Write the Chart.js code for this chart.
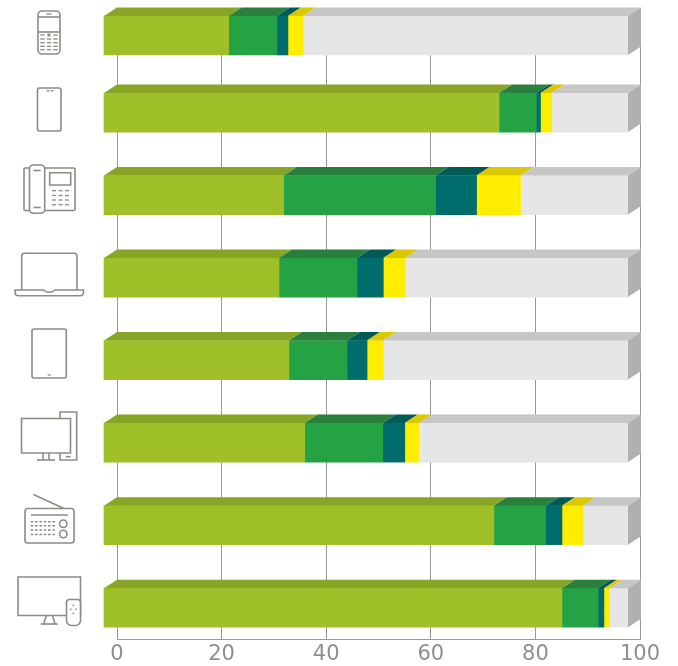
<!DOCTYPE html>
<html><head><meta charset="utf-8">
<style>html,body{margin:0;padding:0;background:#fff}#w{position:relative;width:678px;height:666px}canvas{display:block}</style>
<script src="https://cdn.jsdelivr.net/npm/chart.js@4/dist/chart.umd.min.js"></script>
</head><body><div id="w"><canvas id="c" width="678" height="666"></canvas></div>
<script>
const categories = ["Feature phone","Smartphone","Desk phone","Laptop","Tablet","Desktop PC","Radio","Television"];
const shareA = [23.8,75.4,34.3,33.4,35.3,38.3,74.4,87.4];
const shareB = [9.2,7.1,29.0,14.9,11.1,14.9,9.9,6.9];
const shareC = [2.1,0.8,7.8,5.0,3.8,4.2,3.1,1.1];
const shareD = [2.9,2.1,8.4,4.2,3.1,2.7,4.0,1.0];
const shareE = [62.0,14.6,20.5,42.5,46.7,39.9,8.6,3.6];
const tickValues = [0,20,40,60,80,100];
const seriesList = [shareA,shareB,shareC,shareD,shareE];
const frontColors = ["#9fc029","#25a244","#006c6c","#ffed00","#e6e6e6"];
const topColors = ["#88a526","#2a7f3d","#005a56","#dcc800","#c6c6c4"];
const sideColor = "#b0b0ae";
const depthX = 13, depthY = 8.5;

const boxes3d = {
  id:'boxes3d',
  afterDatasetsDraw(chart){
    const ctx = chart.ctx;
    ctx.save();
    const poly = (pts,col)=>{ctx.beginPath();pts.forEach((p,i)=>i?ctx.lineTo(p[0],p[1]):ctx.moveTo(p[0],p[1]));ctx.closePath();ctx.fillStyle=col;ctx.fill();};
    chart.data.datasets.forEach((ds,d)=>{
      chart.getDatasetMeta(d).data.forEach(el=>{
        const t = el.y-el.height/2, b = el.y+el.height/2;
        poly([[el.base,t],[el.x,t],[el.x+depthX,t-depthY],[el.base+depthX,t-depthY]],topColors[d]);
        if(d===seriesList.length-1) poly([[el.x,t],[el.x+depthX,t-depthY],[el.x+depthX,b-depthY],[el.x,b]],sideColor);
      });
    });
    ctx.restore();
  }
};

const icons = {
  id:'icons',
  afterDraw(chart){
    const c = chart.ctx;
    c.save();
    c.strokeStyle="#8c8c86";c.fillStyle="#8c8c86";c.lineWidth=1.6;c.lineCap="butt";
    const rr=(x0,y0,x1,y1,r,fill)=>{c.beginPath();c.roundRect(x0,y0,x1-x0,y1-y0,r);if(fill){c.fillStyle="#fff";c.fill();c.fillStyle="#8c8c86";}c.stroke();};
    const ln=(...p)=>{c.beginPath();c.moveTo(p[0],p[1]);for(let i=2;i<p.length;i+=2)c.lineTo(p[i],p[i+1]);c.stroke();};
    const dash=(cx,cy,w,h)=>c.fillRect(cx-w/2,cy-h/2,w,h);
    // feature phone
    rr(38,11,60,54,4);
    ln(38.5,17,59.5,17);ln(38.5,32,59.5,32);
    dash(49,14,5,1.3);
    [35,39,42.7,46.3,49.7].forEach((y,i)=>[42.5,49,55.5].forEach(x=>dash(x,y,i==0&&x==49?3:4.5,i==0&&x==49?3:1.3)));
    // smartphone
    rr(37.5,88,61,131,2);
    dash(48,90.8,3,1.3);dash(52,90.8,3,1.3);
    // desk phone
    rr(24,168,75,210.5,1);
    rr(29.5,165,44.7,213.3,4,true);
    ln(33.5,170.5,40.7,170.5);ln(33.5,207.5,40.7,207.5);
    rr(49.7,172.7,70.7,185,0);
    [190.7,195.5,200,204.7].forEach(y=>[54,60.5,67].forEach(x=>dash(x,y,4,1.3)));
    // laptop
    c.beginPath();c.moveTo(21.7,290);c.lineTo(21.7,256);c.arcTo(21.7,253.3,24.5,253.3,3);c.lineTo(74,253.3);c.arcTo(77,253.3,77,256,3);c.lineTo(77,290);c.stroke();
    c.beginPath();c.moveTo(15,290);c.lineTo(44,290);c.quadraticCurveTo(45,292,47,292);c.lineTo(51.5,292);c.quadraticCurveTo(53.5,292,54.5,290);c.lineTo(83.5,290);c.lineTo(83.5,292.5);c.quadraticCurveTo(83.5,295.8,80,295.8);c.lineTo(18.5,295.8);c.quadraticCurveTo(15,295.8,15,292.5);c.closePath();c.stroke();
    // tablet
    rr(32,329,66.3,378,2);
    dash(49.2,375,3,1.3);
    // desktop
    rr(60,412,76.7,460,0);
    rr(21.5,418.5,70.5,453,0,true);
    ln(43,453,43,460);ln(49,453,49,460);ln(37,460,55,460);
    ln(66,456.7,70.7,456.7);
    // radio
    rr(25,508.5,74,543,3);
    ln(33.5,494.5,63.3,508.3);
    ln(31,515,68,515);
    [521.7,525.7,530,534.5].forEach(y=>[32,36.3,40.7,45,49.3,53.7].forEach(x=>dash(x,y,2.6,1.5)));
    c.beginPath();c.arc(63.3,523.7,3.7,0,Math.PI*2);c.stroke();
    c.beginPath();c.arc(63.3,534,3.7,0,Math.PI*2);c.stroke();
    // tv
    rr(18,577,80.5,615.5,0);
    ln(46.5,615.5,43.5,624);ln(52.5,615.5,55,624);ln(40.7,624,57.7,624);
    rr(66.5,599.5,80.5,625.5,[3,3,5,5],true);
    [[73.3,605.3],[70.7,609.3],[76,609.3],[73.3,613.3]].forEach(p=>dash(p[0],p[1],1.5,1.5));
    c.restore();
  }
};

const yMin = -0.267, yMax = 7.38, firstRowGap = 0.066;
new Chart(document.getElementById('c'),{
  type:'bar',
  plugins:[boxes3d,icons],
  data:{
    datasets:seriesList.map((vals,d)=>({
      label:'Series '+(d+1),
      data:categories.map((c,i)=>({x:vals[i],y:i===0?i+firstRowGap:i})),
      backgroundColor:frontColors[d],
      borderWidth:0,
      barThickness:39,
      xAxisID:'front',
      yAxisID:'y',
      clip:false
    }))
  },
  options:{
    indexAxis:'y',
    responsive:false,
    animation:false,
    parsing:{xAxisKey:'x',yAxisKey:'y'},
    layout:{padding:{left:117,right:38,top:8,bottom:0}},
    plugins:{legend:{display:false},tooltip:{enabled:false},title:{display:false}},
    scales:{
      x:{
        type:'linear',position:'bottom',min:0,max:100,
        afterBuildTicks(s){s.ticks=tickValues.map(v=>({value:v}));},
        afterFit(s){s.height=27;},
        grid:{color:'#999996',lineWidth:1,drawTicks:false},
        border:{display:true,color:'#999996',width:1},
        ticks:{color:'#8f8f8a',padding:3,maxRotation:0,autoSkip:false,font:{family:'"DejaVu Sans"',size:21}}
      },
      front:{type:'linear',display:false,position:'bottom',stacked:true,min:2.48,max:102.29},
      y:{type:'linear',display:false,reverse:true,stacked:true,offset:false,grid:{offset:false},min:yMin,max:yMax}
    }
  }
});
</script></body></html>
